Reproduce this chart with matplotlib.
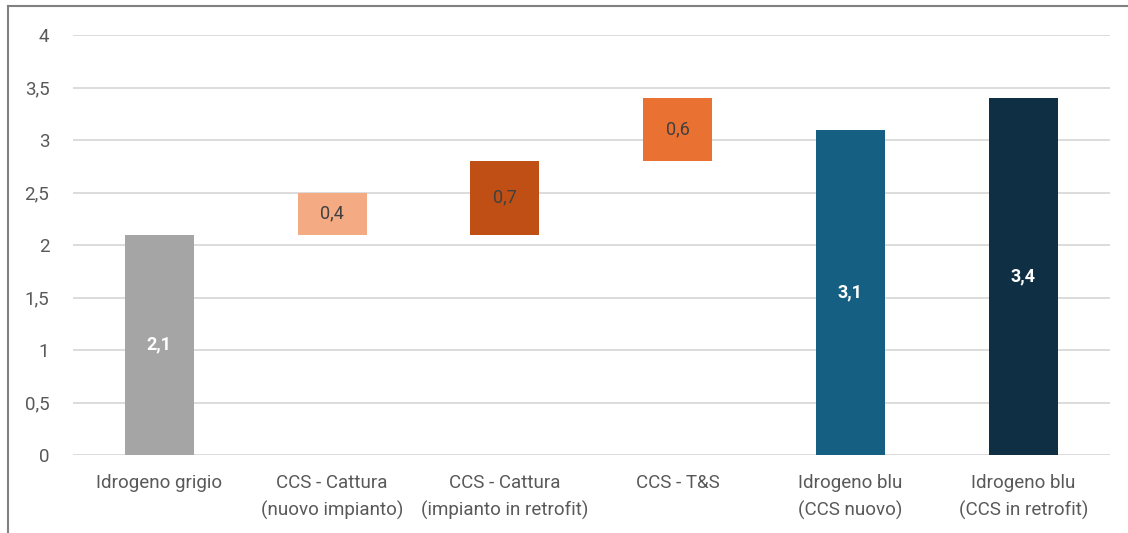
import matplotlib.pyplot as plt
from matplotlib.lines import Line2D

categories = ["Idrogeno grigio", "CCS - Cattura\n(nuovo impianto)", "CCS - Cattura\n(impianto in retrofit)",
              "CCS - T&S", "Idrogeno blu\n(CCS nuovo)", "Idrogeno blu\n(CCS in retrofit)"]
bases = [0, 2.1, 2.1, 2.8, 0, 0]
values = [2.1, 0.4, 0.7, 0.6, 3.1, 3.4]
labels = ["2,1", "0,4", "0,7", "0,6", "3,1", "3,4"]
colors = ["#a5a5a5", "#f4ab84", "#c04f15", "#e97132", "#156082", "#0e2f44"]
totals = [True, False, False, False, True, True]
yticks = [0, 0.5, 1, 1.5, 2, 2.5, 3, 3.5, 4]

plt.rcParams['font.family'] = ['Roboto', 'DejaVu Sans']

fig = plt.figure(figsize=(11.28, 5.33), dpi=100)
ax = fig.add_axes([0.0647, 0.1463, 0.9190, 0.7880])

x = list(range(len(categories)))
ax.bar(x, values, bottom=bases, width=0.4, color=colors, zorder=3)

for i in x:
    mid = bases[i] + values[i] / 2
    if totals[i]:
        ax.text(i, mid, labels[i], ha='center', va='center', color='white',
                fontsize=13, fontweight='bold', zorder=4)
    else:
        ax.text(i, mid, labels[i], ha='center', va='center', color='#404040',
                fontsize=13, zorder=4)

ax.set_xlim(-0.5, 5.5)
ax.set_ylim(0, 4)
ax.set_yticks(yticks)
ax.set_yticklabels([f"{t:g}".replace('.', ',') for t in yticks])
ax.set_xticks(x)
ax.set_xticklabels(categories, linespacing=1.55)
ax.tick_params(axis='both', length=0, colors='#595959', labelsize=13.5)
ax.tick_params(axis='y', pad=17)
ax.tick_params(axis='x', pad=14)
ax.grid(axis='y', color='#d9d9d9', linewidth=1.3, zorder=0)
for s in ax.spines.values():
    s.set_visible(False)

# outer frame (top and left edges)
fig.add_artist(Line2D([8 / 1128, 1], [1 - 6 / 533, 1 - 6 / 533], color='#808080', linewidth=1.5))
fig.add_artist(Line2D([8 / 1128, 8 / 1128], [0, 1 - 6 / 533], color='#808080', linewidth=1.5))

fig.savefig("out.png", dpi=100)
